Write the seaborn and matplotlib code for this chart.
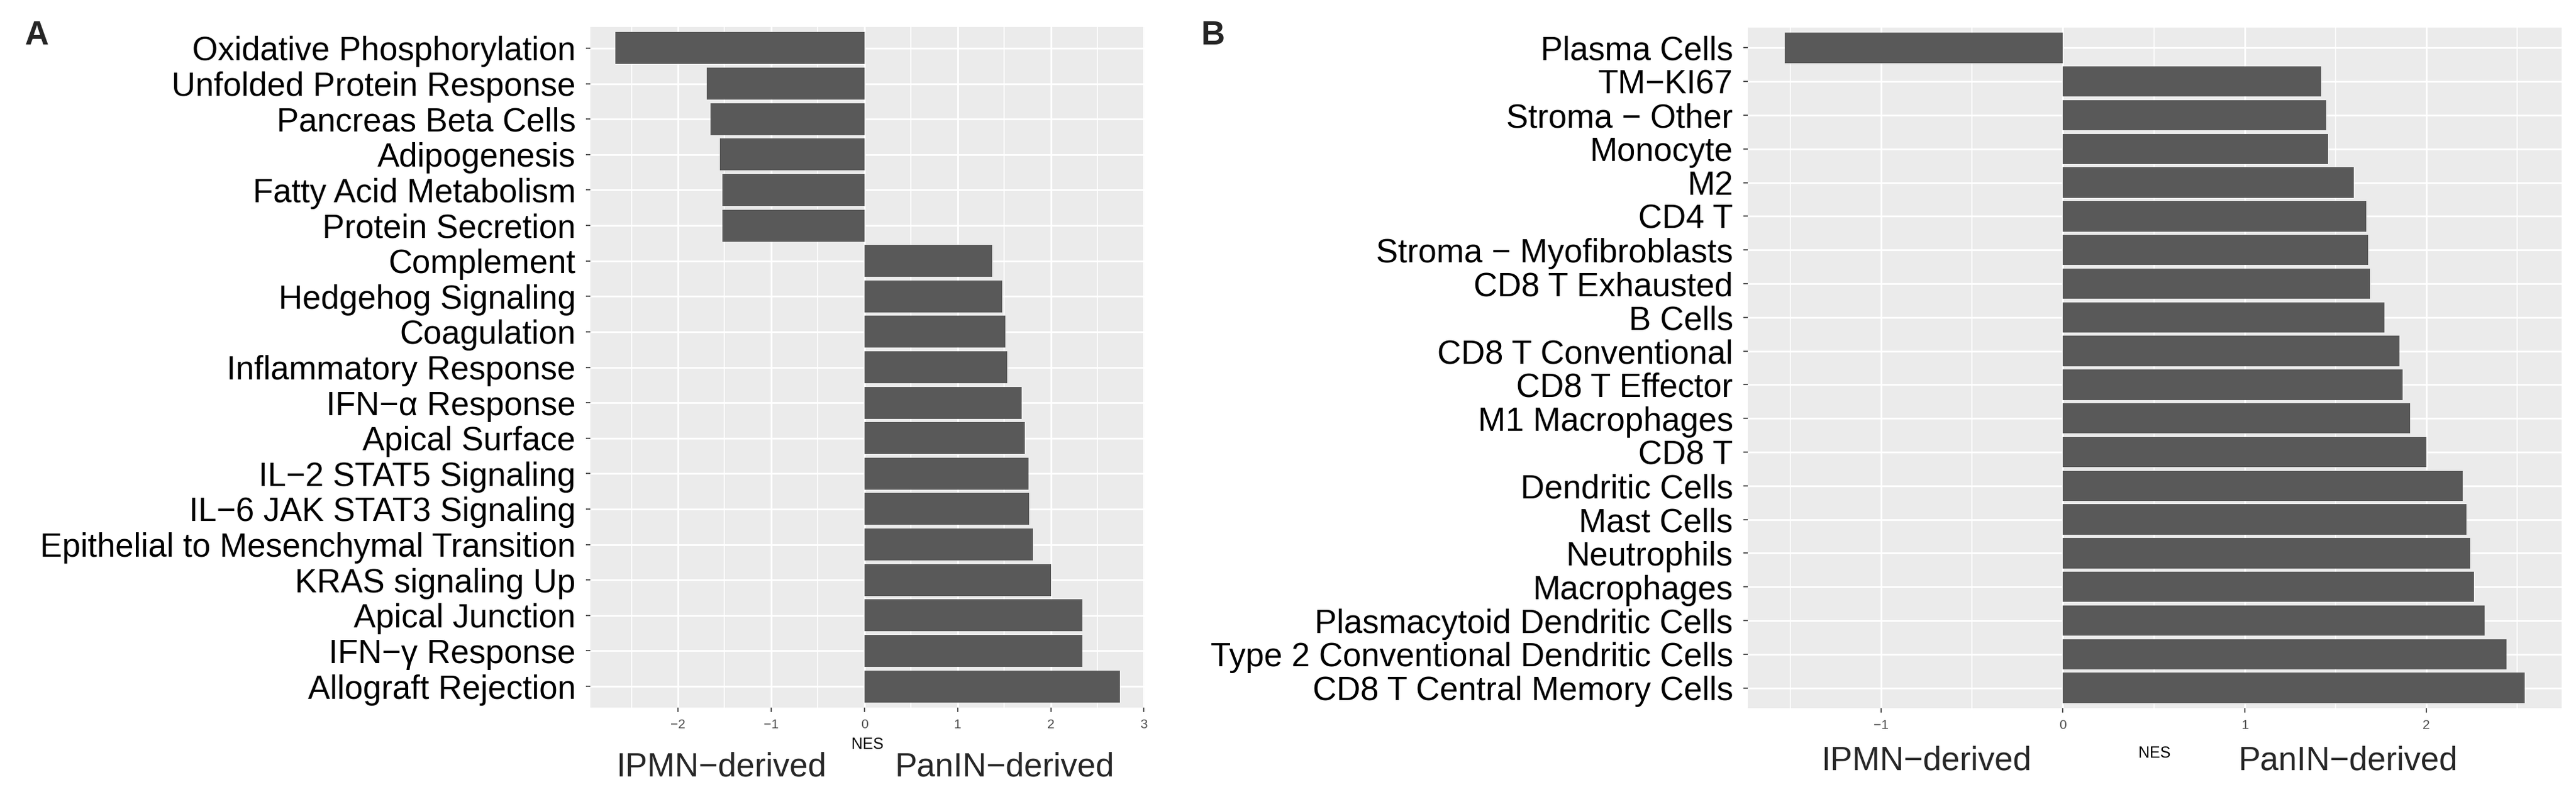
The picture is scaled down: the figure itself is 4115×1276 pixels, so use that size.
import seaborn as sns
import matplotlib.pyplot as plt
from matplotlib.ticker import MultipleLocator

# Panel A: hallmark pathways (top to bottom)
hallmark_names = [
    'Oxidative Phosphorylation', 'Unfolded Protein Response', 'Pancreas Beta Cells',
    'Adipogenesis', 'Fatty Acid Metabolism', 'Protein Secretion', 'Complement',
    'Hedgehog Signaling', 'Coagulation', 'Inflammatory Response', 'IFN\u2212\u03b1 Response',
    'Apical Surface', 'IL\u22122 STAT5 Signaling', 'IL\u22126 JAK STAT3 Signaling',
    'Epithelial to Mesenchymal Transition', 'KRAS signaling Up', 'Apical Junction',
    'IFN\u2212\u03b3 Response', 'Allograft Rejection',
]
hallmark_nes = [
    -2.67, -1.69, -1.65, -1.55, -1.52, -1.52, 1.37, 1.48, 1.51, 1.53, 1.69,
    1.72, 1.76, 1.77, 1.81, 2.00, 2.34, 2.34, 2.74,
]

# Panel B: immune / stromal cell signatures (top to bottom)
cell_names = [
    'Plasma Cells', 'TM\u2212KI67', 'Stroma \u2212 Other', 'Monocyte', 'M2', 'CD4 T',
    'Stroma \u2212 Myofibroblasts', 'CD8 T Exhausted', 'B Cells', 'CD8 T Conventional',
    'CD8 T Effector', 'M1 Macrophages', 'CD8 T', 'Dendritic Cells', 'Mast Cells',
    'Neutrophils', 'Macrophages', 'Plasmacytoid Dendritic Cells',
    'Type 2 Conventional Dendritic Cells', 'CD8 T Central Memory Cells',
]
cell_nes = [
    -1.53, 1.42, 1.45, 1.46, 1.60, 1.67, 1.68, 1.69, 1.77, 1.85,
    1.87, 1.91, 2.00, 2.20, 2.22, 2.24, 2.26, 2.32, 2.44, 2.54,
]

W, H = 4115, 1276
BAR = '#595959'

sns.set_style('darkgrid', {'axes.facecolor': '#EBEBEB', 'grid.color': 'white'})
plt.rcParams['font.family'] = ['Liberation Sans', 'DejaVu Sans']


def frac(x0, x1, y0, y1):
    """pixel box -> figure fraction [left, bottom, width, height]"""
    return [x0 / W, 1 - y1 / H, (x1 - x0) / W, (y1 - y0) / H]


def nes_panel(ax, names, values):
    sns.barplot(x=values, y=names, order=names, orient='h', color=BAR,
                saturation=1, width=0.9, linewidth=0, ax=ax)
    n = len(names)
    ax.margins(x=0.05)
    ax.set_ylim(n - 1 + 0.6, -0.6)
    ax.xaxis.set_major_locator(MultipleLocator(1))
    ax.xaxis.set_minor_locator(MultipleLocator(0.5))
    ax.grid(True, which='major', color='white', linewidth=2.0)
    ax.grid(True, which='minor', axis='x', color='white', linewidth=1.2)
    ax.set_axisbelow(True)
    for s in ax.spines.values():
        s.set_visible(False)
    ax.tick_params(axis='y', labelsize=38, labelcolor='black', length=5,
                   width=1.2, color='#333333', pad=12, left=True)
    ax.tick_params(axis='x', which='major', labelsize=15, labelcolor='#4D4D4D',
                   length=5, width=1.2, color='#333333', pad=8, bottom=True)
    ax.tick_params(axis='x', which='minor', length=0)
    ax.set_xlabel('')
    ax.set_ylabel('')


fig = plt.figure(figsize=(W / 100, H / 100), dpi=100)
ax_a = fig.add_axes(frac(943, 1829, 43, 1130))
ax_b = fig.add_axes(frac(2792, 4092, 44, 1131))

nes_panel(ax_a, hallmark_names, hallmark_nes)
nes_panel(ax_b, cell_names, cell_nes)

# panel letters
fig.text(40 / W, 1 - 71 / H, 'A', fontsize=38, fontweight='bold', va='baseline')
fig.text(1918 / W, 1 - 71 / H, 'B', fontsize=38, fontweight='bold', va='baseline')

# axis titles and direction labels
fig.text(1386 / W, 1 - 1189 / H, 'NES', fontsize=18, color='black', ha='center', va='center')
fig.text(1152 / W, 1 - 1240 / H, 'IPMN\u2212derived', fontsize=38, ha='center', va='baseline')
fig.text(1605 / W, 1 - 1239 / H, 'PanIN\u2212derived', fontsize=38, ha='center', va='baseline')

fig.text(3442 / W, 1 - 1203 / H, 'NES', fontsize=18, color='black', ha='center', va='center')
fig.text(3077 / W, 1 - 1230 / H, 'IPMN\u2212derived', fontsize=38, ha='center', va='baseline')
fig.text(3751 / W, 1 - 1230 / H, 'PanIN\u2212derived', fontsize=38, ha='center', va='baseline')

plt.savefig('out.png', dpi=100, facecolor='white')
plt.close()
